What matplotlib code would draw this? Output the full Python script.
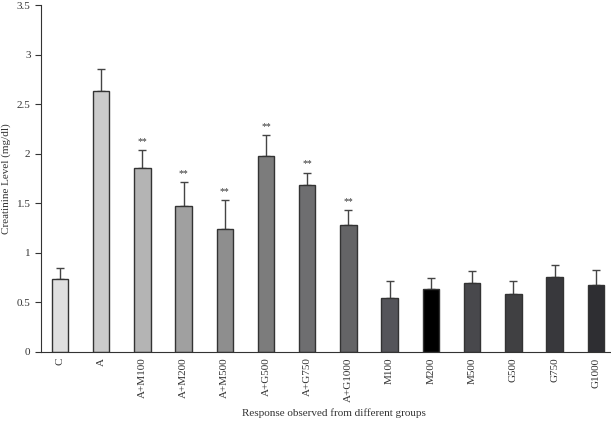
import matplotlib
matplotlib.use("Agg")
import matplotlib.pyplot as plt

groups = ["C", "A", "A+M100", "A+M200", "A+M500", "A+G500", "A+G750", "A+G1000",
          "M100", "M200", "M500", "G500", "G750", "G1000"]
means = [0.74, 2.63, 1.86, 1.47, 1.24, 1.98, 1.68, 1.28, 0.54, 0.64, 0.70, 0.58, 0.76, 0.68]
errs = [0.11, 0.22, 0.18, 0.24, 0.29, 0.21, 0.13, 0.15, 0.18, 0.11, 0.12, 0.14, 0.12, 0.15]
signif = ["", "", "**", "**", "**", "**", "**", "**", "", "", "", "", "", ""]
colors = ["#e0e0e0", "#cbcbcb", "#b4b4b4", "#a0a0a0", "#8e8e8e", "#7c7c7c", "#6e6e70",
          "#646466", "#55555a", "#000000", "#48484c", "#404042", "#38383c", "#2e2e32"]

plt.rcParams['font.family'] = ['Liberation Serif', 'DejaVu Serif']

fig = plt.figure(figsize=(6.11, 4.22), dpi=100)
ax = fig.add_axes([0.067, 0.166, 0.933, 0.822])

x = list(range(len(groups)))
ax.bar(x, means, width=0.4, color=colors, edgecolor="#333333", linewidth=1.0, zorder=2)
ax.errorbar(x, means, yerr=[[0] * len(errs), errs], fmt="none", ecolor="#444444",
            elinewidth=1.0, capsize=3, capthick=1.0, zorder=1)
for xi, m, e, s in zip(x, means, errs, signif):
    if s:
        ax.text(xi, m + e + 0.04, s, ha="center", va="bottom", fontsize=7, color="#333333")

ax.set_xlim(-0.46, 13.37)
ax.set_ylim(0, 3.5)
ax.set_yticks([0, 0.5, 1, 1.5, 2, 2.5, 3, 3.5])
ax.set_yticklabels(["0", "0.5", "1", "1.5", "2", "2.5", "3", "3.5"])
ax.set_xticks(x)
ax.set_xticklabels(groups, rotation=90)
ax.tick_params(labelsize=8, colors="#333333", length=4)
ax.tick_params(axis="x", length=0, pad=4)
for sp in ["top", "right"]:
    ax.spines[sp].set_visible(False)
for sp in ["left", "bottom"]:
    ax.spines[sp].set_color("#333333")
ax.set_ylabel("Creatinine Level (mg/dl)", fontsize=8, color="#333333")
fig.text(0.547, 0.022, "Response observed from different groups", ha="center", va="center",
         fontsize=8, color="#333333")

fig.savefig("out.png", dpi=100)
